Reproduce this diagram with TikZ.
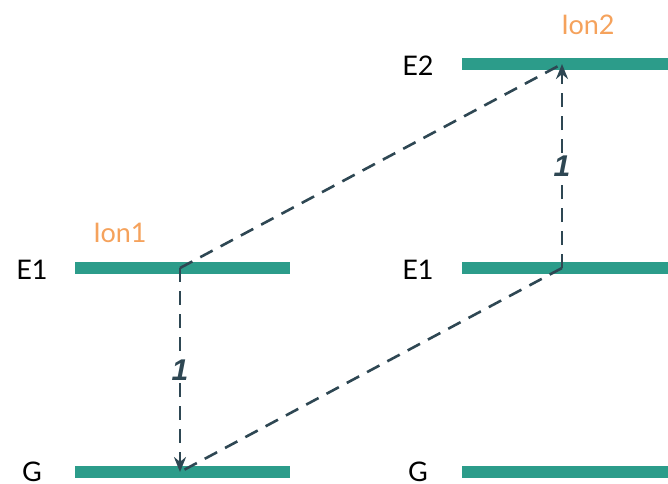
\documentclass[tikz,border=0pt]{standalone}
\usepackage{fontspec}
\setmainfont{Lato}
\newfontfamily\numfont{Liberation Sans}
\usetikzlibrary{arrows.meta}
\definecolor{teal1}{HTML}{2C9C8A}
\definecolor{orng}{HTML}{F5A25C}
\definecolor{slate}{HTML}{2E4753}
\tikzset{
  level/.style={line width=12pt, teal1},
  conn/.style={slate, line width=2.6pt, dash pattern=on 14pt off 9pt},
  arr/.style={conn, -{Stealth[length=15pt,width=12pt]}},
  lab/.style={font=\fontsize{27}{30}\selectfont, text=black},
  ion/.style={font=\fontsize{27}{30}\selectfont, text=orng},
  num/.style={font=\numfont\bfseries\itshape\fontsize{30}{32}\selectfont, text=slate, fill=white, inner sep=3pt}
}
\begin{document}
\begin{tikzpicture}[x=1pt,y=-1pt]
\useasboundingbox (0,0) rectangle (668,483);
% levels
\draw[level] (75,268) -- (290,268);
\draw[level] (75,472) -- (290,472);
\draw[level] (462,64) -- (668,64);
\draw[level] (462,268) -- (668,268);
\draw[level] (462,472) -- (668,472);
% coordinates
\coordinate (aE1) at (180,268);
\coordinate (aG) at (180,472);
\coordinate (bE2) at (562,64);
\coordinate (bE1) at (562,268);
% labels
\node[lab] (l1) at (32,270) {E1};
\node[lab] (l2) at (32,472) {G};
\node[lab] (l3) at (418,66) {E2};
\node[lab] (l4) at (418,270) {E1};
\node[lab] (l5) at (418,472) {G};
\node[ion] (i1) at (120,233) {Ion1};
\node[ion] (i2) at (588,25) {Ion2};
% connectors
\draw[conn] (aE1) -- (bE2);
\draw[conn] (bE1) -- (aG);
\draw[arr] (aE1) -- node[num] (n1) {1} (aG);
\draw[arr] (bE1) -- node[num] (n2) {1} (bE2);
\end{tikzpicture}
\end{document}
